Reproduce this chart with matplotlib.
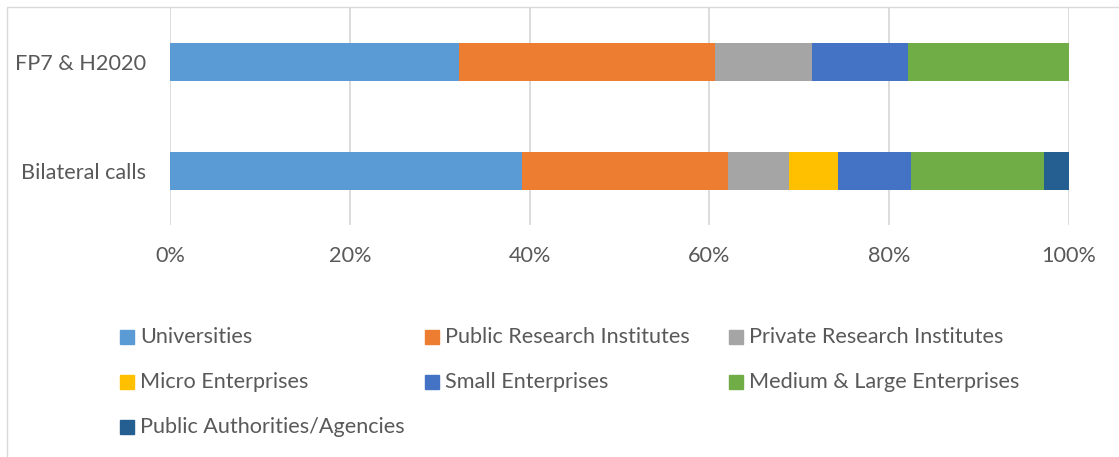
import matplotlib
matplotlib.use("Agg")
import matplotlib.pyplot as plt
from matplotlib.patches import Rectangle
from matplotlib.ticker import PercentFormatter

categories = ["Bilateral calls", "FP7 & H2020"]
series_names = ["Universities", "Public Research Institutes", "Private Research Institutes",
                "Micro Enterprises", "Small Enterprises", "Medium & Large Enterprises",
                "Public Authorities/Agencies"]
# values in percent, order matches categories
universities = [39.1, 32.1]
public_research = [23.0, 28.55]
private_research = [6.8, 10.75]
micro = [5.4, 0.0]
small = [8.1, 10.7]
medium_large = [14.8, 17.9]
public_auth = [2.8, 0.0]
colors = ["#5b9bd5", "#ed7d31", "#a5a5a5", "#ffc000", "#4472c4", "#70ad47", "#255e91"]
xticks = [0, 20, 40, 60, 80, 100]

series = [universities, public_research, private_research, micro, small, medium_large, public_auth]

W, H = 1119, 457
fig = plt.figure(figsize=(W / 100, H / 100), dpi=100)
font = "Lato"
txtc = "#595959"
fs = 15.6

ax = fig.add_axes([170 / W, 1 - 225 / H, (1069 - 170) / W, (225 - 8) / H])
left = [0.0] * len(categories)
for vals, col, name in zip(series, colors, series_names):
    ax.barh(range(len(categories)), vals, left=left, height=0.35, color=col, label=name, zorder=3)
    left = [l + v for l, v in zip(left, vals)]

ax.set_xlim(0, 100)
ax.set_ylim(-0.5, len(categories) - 0.5)
ax.set_xticks(xticks)
ax.xaxis.set_major_formatter(PercentFormatter(decimals=0))
ax.set_yticks(range(len(categories)))
ax.set_yticklabels(categories)
ax.grid(axis="x", color="#d9d9d9", linewidth=1.3, zorder=0)
for s in ax.spines.values():
    s.set_visible(False)
ax.tick_params(axis="both", length=0, colors=txtc, labelsize=fs)
ax.tick_params(axis="x", pad=15)
ax.tick_params(axis="y", pad=17)
for lab in ax.get_xticklabels() + ax.get_yticklabels():
    lab.set_fontfamily(font)

# legend, laid out in rows as in the reference
col_x = [120, 425, 729]
row_y = [337, 382, 427]
for i, (name, col) in enumerate(zip(series_names, colors)):
    r, c = divmod(i, 3)
    x, y = col_x[c], row_y[r]
    fig.patches.append(Rectangle((x / W, 1 - (y + 7) / H), 14 / W, 14 / H,
                                 transform=fig.transFigure, color=col))
    fig.text((x + 20) / W, 1 - y / H, name, fontsize=fs, color=txtc, family=font,
             va="center", ha="left")

# chart area border
fig.patches.append(Rectangle((7 / W, -0.1), 1.2, 1 - 7 / H + 0.1, transform=fig.transFigure,
                             fill=False, edgecolor="#d9d9d9", linewidth=1.0))

fig.savefig("out.png", dpi=100)
